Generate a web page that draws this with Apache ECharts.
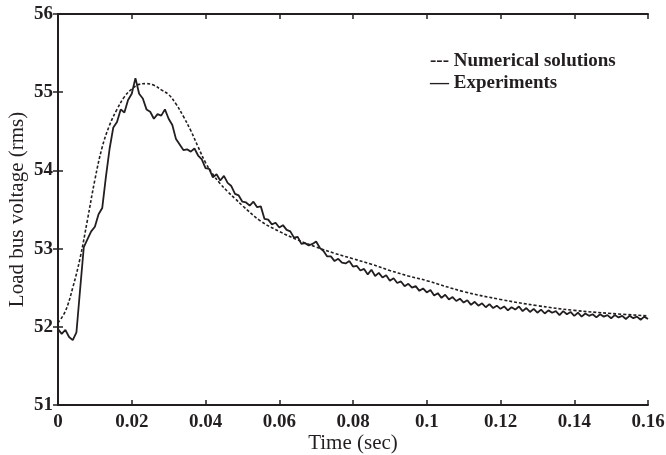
<!DOCTYPE html>
<html>
<head>
<meta charset="utf-8">
<script src="https://cdn.jsdelivr.net/npm/echarts@6/dist/echarts.min.js"></script>
<style>html,body{margin:0;padding:0;background:#fff;}#c{width:666px;height:455px;}</style>
</head>
<body>
<div id="c"></div>
<script>
// Numerical solutions (dashed)
const numTime = [0,0.002,0.004,0.006,0.008,0.010,0.012,0.014,0.016,0.018,0.020,0.022,0.024,0.026,0.028,0.030,0.032,0.034,0.036,0.038,0.040,0.042,0.044,0.046,0.048,0.050,0.055,0.060,0.065,0.070,0.075,0.080,0.085,0.090,0.095,0.100,0.110,0.120,0.130,0.140,0.150,0.160];
const numVolt = [52.05,52.2,52.5,52.88,53.37,53.88,54.3,54.58,54.78,54.94,55.04,55.1,55.11,55.09,55.03,54.97,54.85,54.69,54.51,54.3,54.1,53.95,53.83,53.73,53.64,53.55,53.35,53.22,53.11,53.02,52.94,52.87,52.8,52.72,52.65,52.59,52.45,52.35,52.27,52.21,52.17,52.14];

// Experiments (solid), sampled every 1 ms
const expTime = [0,0.001,0.002,0.003,0.004,0.005,0.006,0.007,0.008,0.009,0.010,0.011,0.012,0.013,0.014,0.015,0.016,0.017,0.018,0.019,0.020,0.021,0.022,0.023,0.024,0.025,0.026,0.027,0.028,0.029,0.030,0.031,0.032,0.033,0.034,0.035,0.036,0.037,0.038,0.039,0.040,0.041,0.042,0.043,0.044,0.045,0.046,0.047,0.048,0.049,0.050,0.051,0.052,0.053,0.054,0.055,0.056,0.057,0.058,0.059,0.060,0.061,0.062,0.063,0.064,0.065,0.066,0.067,0.068,0.069,0.070,0.071,0.072,0.073,0.074,0.075,0.076,0.077,0.078,0.079,0.080,0.081,0.082,0.083,0.084,0.085,0.086,0.087,0.088,0.089,0.090,0.091,0.092,0.093,0.094,0.095,0.096,0.097,0.098,0.099,0.100,0.101,0.102,0.103,0.104,0.105,0.106,0.107,0.108,0.109,0.110,0.111,0.112,0.113,0.114,0.115,0.116,0.117,0.118,0.119,0.120,0.121,0.122,0.123,0.124,0.125,0.126,0.127,0.128,0.129,0.130,0.131,0.132,0.133,0.134,0.135,0.136,0.137,0.138,0.139,0.140,0.141,0.142,0.143,0.144,0.145,0.146,0.147,0.148,0.149,0.150,0.151,0.152,0.153,0.154,0.155,0.156,0.157,0.158,0.159,0.160];
const expVolt = [51.97,51.91,51.96,51.87,51.83,51.93,52.48,53.02,53.12,53.22,53.28,53.44,53.52,53.92,54.28,54.55,54.62,54.78,54.74,54.9,54.98,55.18,54.98,54.92,54.78,54.75,54.66,54.72,54.7,54.78,54.66,54.58,54.4,54.33,54.26,54.27,54.24,54.28,54.19,54.14,54.03,54.02,53.91,53.95,53.87,53.93,53.84,53.8,53.7,53.68,53.6,53.59,53.55,53.6,53.53,53.54,53.38,53.37,53.31,53.33,53.27,53.3,53.24,53.22,53.14,53.15,53.06,53.07,53.04,53.06,53.09,53.01,52.97,52.9,52.9,52.84,52.87,52.82,52.81,52.84,52.77,52.78,52.72,52.74,52.67,52.73,52.65,52.69,52.63,52.66,52.59,52.62,52.56,52.58,52.52,52.55,52.5,52.52,52.46,52.49,52.44,52.47,52.4,52.43,52.37,52.41,52.35,52.38,52.33,52.36,52.31,52.34,52.28,52.32,52.27,52.3,52.25,52.29,52.24,52.27,52.23,52.26,52.21,52.25,52.22,52.26,52.2,52.24,52.19,52.23,52.18,52.22,52.17,52.21,52.18,52.2,52.15,52.2,52.16,52.19,52.14,52.18,52.13,52.17,52.14,52.16,52.12,52.16,52.13,52.15,52.11,52.15,52.12,52.14,52.1,52.14,52.11,52.13,52.09,52.13,52.1];

const xLabel = 'Time (sec)';
const yLabel = 'Load bus voltage (rms)';
const legendNames = ['--- Numerical solutions', '\u2014 Experiments'];

const ink = '#231f20';
const font = 'Liberation Serif';

const chart = echarts.init(document.getElementById('c'), null, {renderer: 'canvas'});

const axisCommon = {
  axisLine: {show: true, lineStyle: {color: ink, width: 2}},
  axisTick: {show: true, inside: true, length: 5, lineStyle: {color: ink, width: 1.5}},
  splitLine: {show: false}
};

chart.setOption({
  backgroundColor: '#fff',
  animation: false,
  grid: {left: 58, right: 18, top: 14, bottom: 50, containLabel: false, outerBoundsMode: 'none'},
  xAxis: [
    Object.assign({
      type: 'value', min: 0, max: 0.16, interval: 0.02, position: 'bottom',
      name: xLabel, nameLocation: 'middle', nameGap: 28, nameMoveOverlap: false,
      nameTextStyle: {fontFamily: font, fontSize: 21, color: ink},
      axisLabel: {fontFamily: font, fontSize: 19, fontWeight: 'bold', color: ink, margin: 8}
    }, axisCommon),
    Object.assign({
      type: 'value', min: 0, max: 0.16, interval: 0.02, position: 'top',
      axisLabel: {show: false}
    }, axisCommon)
  ],
  yAxis: [
    Object.assign({
      type: 'value', min: 51, max: 56, interval: 1, position: 'left',
      name: yLabel, nameLocation: 'middle', nameGap: 30, nameRotate: 90, nameMoveOverlap: false,
      nameTextStyle: {fontFamily: font, fontSize: 21, color: ink},
      axisLabel: {fontFamily: font, fontSize: 19, fontWeight: 'bold', color: ink, margin: 5}
    }, axisCommon),
    Object.assign({
      type: 'value', min: 51, max: 56, interval: 1, position: 'right',
      axisLabel: {show: false}
    }, axisCommon)
  ],
  series: [
    {
      name: 'Numerical solutions', type: 'line', xAxisIndex: 0, yAxisIndex: 0,
      data: numTime.map((t, i) => [t, numVolt[i]]),
      smooth: 0.4, showSymbol: false,
      lineStyle: {color: ink, width: 1.6, type: [3, 2]}
    },
    {
      name: 'Experiments', type: 'line', xAxisIndex: 0, yAxisIndex: 0,
      data: expTime.map((t, i) => [t, expVolt[i]]),
      showSymbol: false,
      lineStyle: {color: ink, width: 1.8}
    }
  ],
  graphic: [
    {type: 'text', left: 430, top: 52, style: {text: legendNames[0], font: 'bold 19px "Liberation Serif"', fill: ink}},
    {type: 'text', left: 430, top: 74, style: {text: legendNames[1], font: 'bold 19px "Liberation Serif"', fill: ink}}
  ]
});
</script>
</body>
</html>
